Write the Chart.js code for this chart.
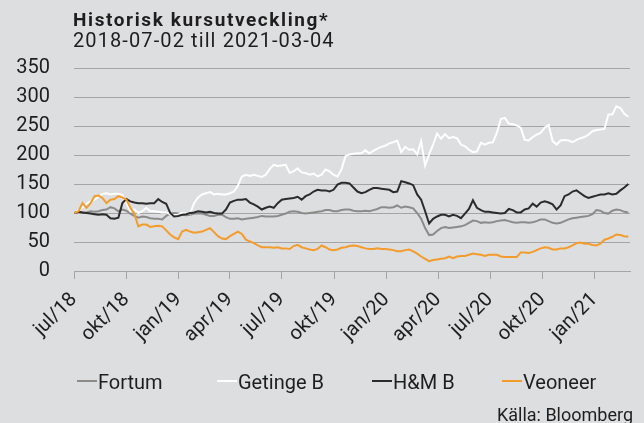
<!DOCTYPE html>
<html><head><meta charset="utf-8">
<script src="https://cdn.jsdelivr.net/npm/chart.js@4.4.1/dist/chart.umd.min.js"></script>
<style>
html,body{margin:0;padding:0;background:#dddee0;}
#wrap{position:relative;width:644px;height:423px;overflow:hidden;background:#dddee0;font-family:Roboto,sans-serif;color:#1e1e1e;}
#c{position:absolute;left:0;top:0;}
.t{position:absolute;white-space:nowrap;}
.lg{position:absolute;top:372px;height:20px;font-size:20px;line-height:20px;white-space:nowrap;}
.lg i{position:absolute;left:0;top:8px;width:20px;height:2px;}
.lg span{position:absolute;left:21px;top:0;}
</style></head><body>
<div id="wrap">
<canvas id="c" width="644" height="423"></canvas>
<div class="t" style="left:73px;top:10px;font-size:19px;line-height:19px;font-weight:bold;letter-spacing:1.6px;">Historisk kursutveckling*</div>
<div class="t" style="left:73px;top:30px;font-size:20px;line-height:20px;letter-spacing:1.1px;">2018-07-02 till 2021-03-04</div>
<div id="legend"></div>
<div class="t" style="right:11px;top:406px;font-size:18px;line-height:18px;">Källa: Bloomberg</div>
</div>
<script>
// ---- data ----
const firstDate = '2018-07-02';      // first weekly observation
const stepDays = 7;                  // weekly observations
const axisStartDate = '2018-07-01';
const axisEndDate = '2021-03-04';
const tickDates = ['2018-07-01','2018-10-01','2019-01-01','2019-04-01','2019-07-01','2019-10-01','2020-01-01','2020-04-01','2020-07-01','2020-10-01','2021-01-01'];
const tickLabels = ['jul/18','okt/18','jan/19','apr/19','jul/19','okt/19','jan/20','apr/20','jul/20','okt/20','jan/21'];
const yTicks = [0,50,100,150,200,250,300,350];
const seriesNames = ['Fortum','Getinge B','H&M B','Veoneer'];

const fortum = [100,103,100,101,103,102,103,105,106,110,108,103,106,104,99,95,92,94,93,91,90,90,89,95,99,100,99,97,96,97,99,99,99,97,95,
95,97,97,93,90,90,91,89,90,91,92,93,95,94,94,94,95,97,99,102,103,102,100,99,100,101,102,103,105,105,103,103,105,106,106,
104,103,103,104,103,105,107,110,110,109,110,113,109,111,110,108,100,90,74,62,63,69,74,76,74,75,76,77,79,83,87,86,83,84,
83,84,86,87,88,86,84,83,84,84,83,84,86,89,89,86,83,82,83,86,89,91,92,93,94,95,98,105,104,100,99,104,106,105,102,101];

const getinge = [100,105,110,116,120,123,128,133,134,132,133,133,131,117,103,106,100,103,109,103,103,102,101,101,98,96,97,100,99,99,117,127,132,134,136,
132,133,132,132,134,137,147,163,166,164,166,164,162,166,176,183,181,182,183,169,172,177,170,169,166,168,163,166,175,172,166,163,175,198,201,
202,203,203,208,203,207,211,214,216,220,222,225,205,214,209,210,201,224,182,201,218,237,228,236,229,231,229,218,215,209,205,206,221,218,
221,222,238,262,264,254,253,251,247,226,225,231,235,238,247,252,224,218,225,226,225,222,226,229,231,235,241,243,244,245,270,270,284,281,271,266];

const hm = [100,102,101,100,99,98,97,98,97,91,90,92,117,124,120,118,117,117,116,117,117,124,119,116,100,94,95,97,98,100,101,103,102,101,102,
100,99,99,106,118,121,123,123,124,118,115,111,106,109,111,109,117,123,124,125,126,128,123,129,132,137,140,139,139,137,140,149,152,152,151,
144,137,134,136,140,143,143,142,141,140,136,137,155,153,151,148,132,123,103,82,90,94,97,97,94,97,95,91,99,107,122,109,105,102,
102,101,100,99,100,107,105,101,101,106,108,116,111,118,120,118,115,106,113,129,132,137,139,134,129,126,128,130,132,132,134,132,133,139,144,150];

const veoneer = [100,103,117,109,117,129,130,126,117,123,124,129,127,123,109,99,77,80,80,76,77,78,77,70,63,58,55,68,71,68,66,67,68,71,74,
67,60,56,55,60,64,68,64,54,51,48,44,41,41,41,40,41,39,39,38,43,45,41,39,37,36,38,44,41,37,36,37,40,41,43,
44,43,41,39,38,38,39,38,38,37,36,34,34,36,37,34,30,25,21,17,19,20,21,22,25,22,25,26,26,28,30,29,28,26,
28,28,28,25,24,24,24,24,32,32,31,33,36,39,41,40,37,37,39,39,41,44,48,49,47,47,45,44,47,54,56,59,63,62,60,59];

const seriesValues = [fortum, getinge, hm, veoneer];

// ---- styles ----
const seriesColors = ['#8b8b8b','#ffffff','#2b2b2b','#f39c2c'];
const gridColor = '#a5a5a5';
const textColor = '#1e1e1e';

const DAY = 86400000;
const dayOf = s => Math.round((Date.parse(s) - Date.parse(axisStartDate)) / DAY);
const firstDay = dayOf(firstDate);

const datasets = seriesValues.map((vals, k) => ({
  label: seriesNames[k],
  data: vals.map((v, i) => ({x: firstDay + i * stepDays, y: v})),
  borderColor: seriesColors[k],
  backgroundColor: seriesColors[k],
  borderWidth: 2,
  pointRadius: 0,
  tension: 0,
  fill: false,
  order: seriesValues.length - k
}));

// legend (HTML)
const legendX = [77, 217, 372, 502];
const lg = document.getElementById('legend');
seriesNames.forEach((n, k) => {
  const d = document.createElement('div');
  d.className = 'lg';
  d.style.left = legendX[k] + 'px';
  d.innerHTML = '<i style="background:' + seriesColors[k] + '"></i><span></span>';
  d.querySelector('span').textContent = n;
  lg.appendChild(d);
});

Chart.defaults.font.family = 'Roboto, sans-serif';
new Chart(document.getElementById('c'), {
  type: 'line',
  data: {datasets},
  options: {
    responsive: false,
    devicePixelRatio: 1,
    animation: false,
    layout: {padding: {left: 0, right: 14, top: 68, bottom: 0}},
    plugins: {legend: {display: false}, tooltip: {enabled: false}, title: {display: false}},
    scales: {
      x: {
        type: 'linear',
        min: dayOf(axisStartDate),
        max: dayOf(axisEndDate),
        afterBuildTicks: s => { s.ticks = tickDates.map(d => ({value: dayOf(d)})); },
        afterFit: s => { s.height = 152; },
        grid: {display: true, drawOnChartArea: false, drawTicks: true, tickLength: 8, color: gridColor, lineWidth: 1},
        border: {display: true, color: gridColor, width: 1},
        ticks: {autoSkip: false, maxRotation: 45, minRotation: 45, padding: 9,
                font: {size: 20}, color: textColor,
                callback: (v, i) => tickLabels[i]}
      },
      y: {
        min: 0, max: 350,
        afterBuildTicks: s => { s.ticks = yTicks.map(v => ({value: v})); },
        afterFit: s => { s.width = 74; },
        grid: {color: gridColor, lineWidth: 1, drawTicks: false},
        border: {display: false},
        ticks: {padding: 24, font: {size: 20}, color: textColor, callback: v => String(v)}
      }
    }
  }
});
</script>
</body></html>
